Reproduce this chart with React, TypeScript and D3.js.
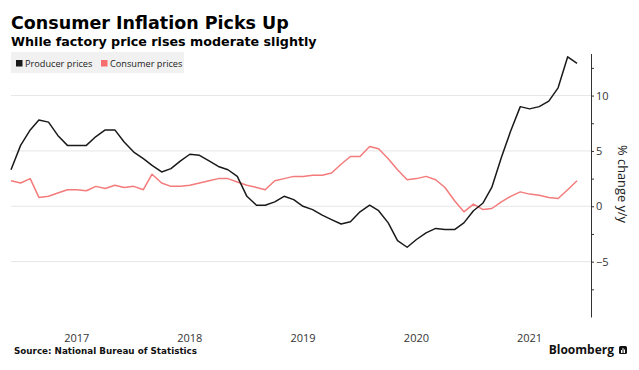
import * as d3 from 'd3';
import React, { useRef, useEffect } from 'react';

// monthly y/y %, Nov 2016 .. Nov 2021
const startMonth = new Date(2016, 11, 1); // Nov 2016 reading, plotted at month end
const producerPrices = [
  3.3, 5.5,
  6.9, 7.8, 7.6, 6.4, 5.5, 5.5, 5.5, 6.3, 6.9, 6.9, 5.8, 4.9,
  4.3, 3.7, 3.1, 3.4, 4.1, 4.7, 4.6, 4.1, 3.6, 3.3, 2.7, 0.9,
  0.1, 0.1, 0.4, 0.9, 0.6, 0.0, -0.3, -0.8, -1.2, -1.6, -1.4, -0.5,
  0.1, -0.4, -1.5, -3.1, -3.7, -3.0, -2.4, -2.0, -2.1, -2.1, -1.5, -0.4,
  0.3, 1.7, 4.4, 6.8, 9.0, 8.8, 9.0, 9.5, 10.7, 13.5, 12.9,
];
const consumerPrices = [
  2.3, 2.1,
  2.5, 0.8, 0.9, 1.2, 1.5, 1.5, 1.4, 1.8, 1.6, 1.9, 1.7, 1.8,
  1.5, 2.9, 2.1, 1.8, 1.8, 1.9, 2.1, 2.3, 2.5, 2.5, 2.2, 1.9,
  1.7, 1.5, 2.3, 2.5, 2.7, 2.7, 2.8, 2.8, 3.0, 3.8, 4.5, 4.5,
  5.4, 5.2, 4.3, 3.3, 2.4, 2.5, 2.7, 2.4, 1.7, 0.5, -0.5, 0.2,
  -0.3, -0.2, 0.4, 0.9, 1.3, 1.1, 1.0, 0.8, 0.7, 1.5, 2.3,
];
const yearLabels = [2017, 2018, 2019, 2020, 2021];
const yTicks = [-7.5, -5, -2.5, 0, 2.5, 5, 7.5, 10, 12.5];
const gridValues = [-5, 0, 5, 10];

const W = 639;
const H = 370;
const left = 11;
const right = 577;
const axisX = 591;

function Chart() {
  const ref = useRef(null);

  useEffect(() => {
    const svg = d3.select(ref.current);
    svg.selectAll('*').remove();

    const dates = producerPrices.map((d, i) => d3.timeMonth.offset(startMonth, i));

    const x = d3
      .scaleTime()
      .domain([dates[0], dates[dates.length - 1]])
      .range([left, right]);
    const y = d3.scaleLinear().domain([-10, 13.8]).range([317, 53.5]);

    svg.append('rect').attr('width', W).attr('height', H).attr('fill', '#fff');

    // titles
    svg
      .append('text')
      .attr('x', 11)
      .attr('y', 28.5)
      .attr('font-family', 'DejaVu Sans')
      .attr('font-weight', 'bold')
      .attr('font-size', 17.5)
      .attr('fill', '#000')
      .text('Consumer Inflation Picks Up');
    svg
      .append('text')
      .attr('x', 11)
      .attr('y', 46)
      .attr('font-family', 'DejaVu Sans')
      .attr('font-weight', 'bold')
      .attr('font-size', 12.7)
      .attr('fill', '#000')
      .text('While factory price rises moderate slightly');

    // legend
    svg.append('rect').attr('x', 11).attr('y', 52).attr('width', 173).attr('height', 21).attr('fill', '#f1f1f1');
    const legend = [
      { label: 'Producer prices', color: '#1a1a1a', x: 16 },
      { label: 'Consumer prices', color: '#f76e6e', x: 101 },
    ];
    legend.forEach(l => {
      svg.append('rect').attr('x', l.x).attr('y', 60).attr('width', 6.5).attr('height', 6.5).attr('fill', l.color);
      svg
        .append('text')
        .attr('x', l.x + 9)
        .attr('y', 66.5)
        .attr('font-family', 'Open Sans')
        .attr('font-size', 9.2)
        .attr('fill', '#222')
        .text(l.label);
    });

    // gridlines
    svg
      .append('g')
      .selectAll('line')
      .data(gridValues)
      .enter()
      .append('line')
      .attr('x1', left)
      .attr('x2', axisX)
      .attr('y1', d => y(d))
      .attr('y2', d => y(d))
      .attr('stroke', '#e6e6e6')
      .attr('stroke-width', 1);

    // right axis
    const yAxis = d3
      .axisRight(y)
      .tickValues(yTicks)
      .tickSize(3)
      .tickSizeOuter(0)
      .tickPadding(2)
      .tickFormat(d => (+d % 5 === 0 ? d3.format('d')(+d) : ''));
    const ag = svg.append('g').attr('transform', `translate(${axisX},0)`).call(yAxis);
    ag.select('.domain').attr('stroke', '#333');
    ag.selectAll('.tick line').attr('stroke', '#333');
    ag.selectAll('.tick text')
      .attr('font-family', 'Open Sans')
      .attr('font-size', 11)
      .attr('fill', '#333');

    svg
      .append('text')
      .attr('transform', 'translate(618,184) rotate(90)')
      .attr('text-anchor', 'middle')
      .attr('font-family', 'Open Sans')
      .attr('font-size', 12.8)
      .attr('fill', '#222')
      .text('% change y/y');

    // year labels (mid-year)
    svg
      .append('g')
      .selectAll('text')
      .data(yearLabels)
      .enter()
      .append('text')
      .attr('x', d => x(new Date(d, 6, 1)))
      .attr('y', 341.5)
      .attr('text-anchor', 'middle')
      .attr('font-family', 'Open Sans')
      .attr('font-size', 11)
      .attr('fill', '#333')
      .text(d => d);

    // lines
    const line = d3
      .line()
      .x((d, i) => x(dates[i]))
      .y(d => y(d));
    svg
      .append('path')
      .datum(consumerPrices)
      .attr('d', line)
      .attr('fill', 'none')
      .attr('stroke', '#f47b7b')
      .attr('stroke-width', 1.5)
      .attr('stroke-linejoin', 'round');
    svg
      .append('path')
      .datum(producerPrices)
      .attr('d', line)
      .attr('fill', 'none')
      .attr('stroke', '#1a1a1a')
      .attr('stroke-width', 1.5)
      .attr('stroke-linejoin', 'round');

    // footer
    svg
      .append('text')
      .attr('x', 14)
      .attr('y', 354)
      .attr('font-family', 'DejaVu Sans')
      .attr('font-weight', 'bold')
      .attr('font-size', 9)
      .attr('textLength', 183)
      .attr('lengthAdjust', 'spacingAndGlyphs')
      .attr('fill', '#111')
      .text('Source: National Bureau of Statistics');
    svg
      .append('text')
      .attr('x', 614)
      .attr('y', 354)
      .attr('text-anchor', 'end')
      .attr('font-family', 'Open Sans')
      .attr('font-weight', 'bold')
      .attr('font-size', 12)
      .attr('fill', '#111')
      .text('Bloomberg');
    const logo = svg.append('g').attr('transform', 'translate(619,346)');
    logo.append('rect').attr('width', 8).attr('height', 8).attr('rx', 1.5).attr('fill', '#111');
    [
      [2, 4, 3],
      [3.5, 2, 5],
      [5, 3.5, 3.5],
    ].forEach(([bx, by, bh]) => {
      logo.append('rect').attr('x', bx).attr('y', by).attr('width', 1).attr('height', bh).attr('fill', '#fff');
    });
  }, []);

  return <svg ref={ref} width={W} height={H} style={{ position: 'absolute', left: 0, top: 0 }} />;
}

export default function App() {
  return <Chart />;
}
